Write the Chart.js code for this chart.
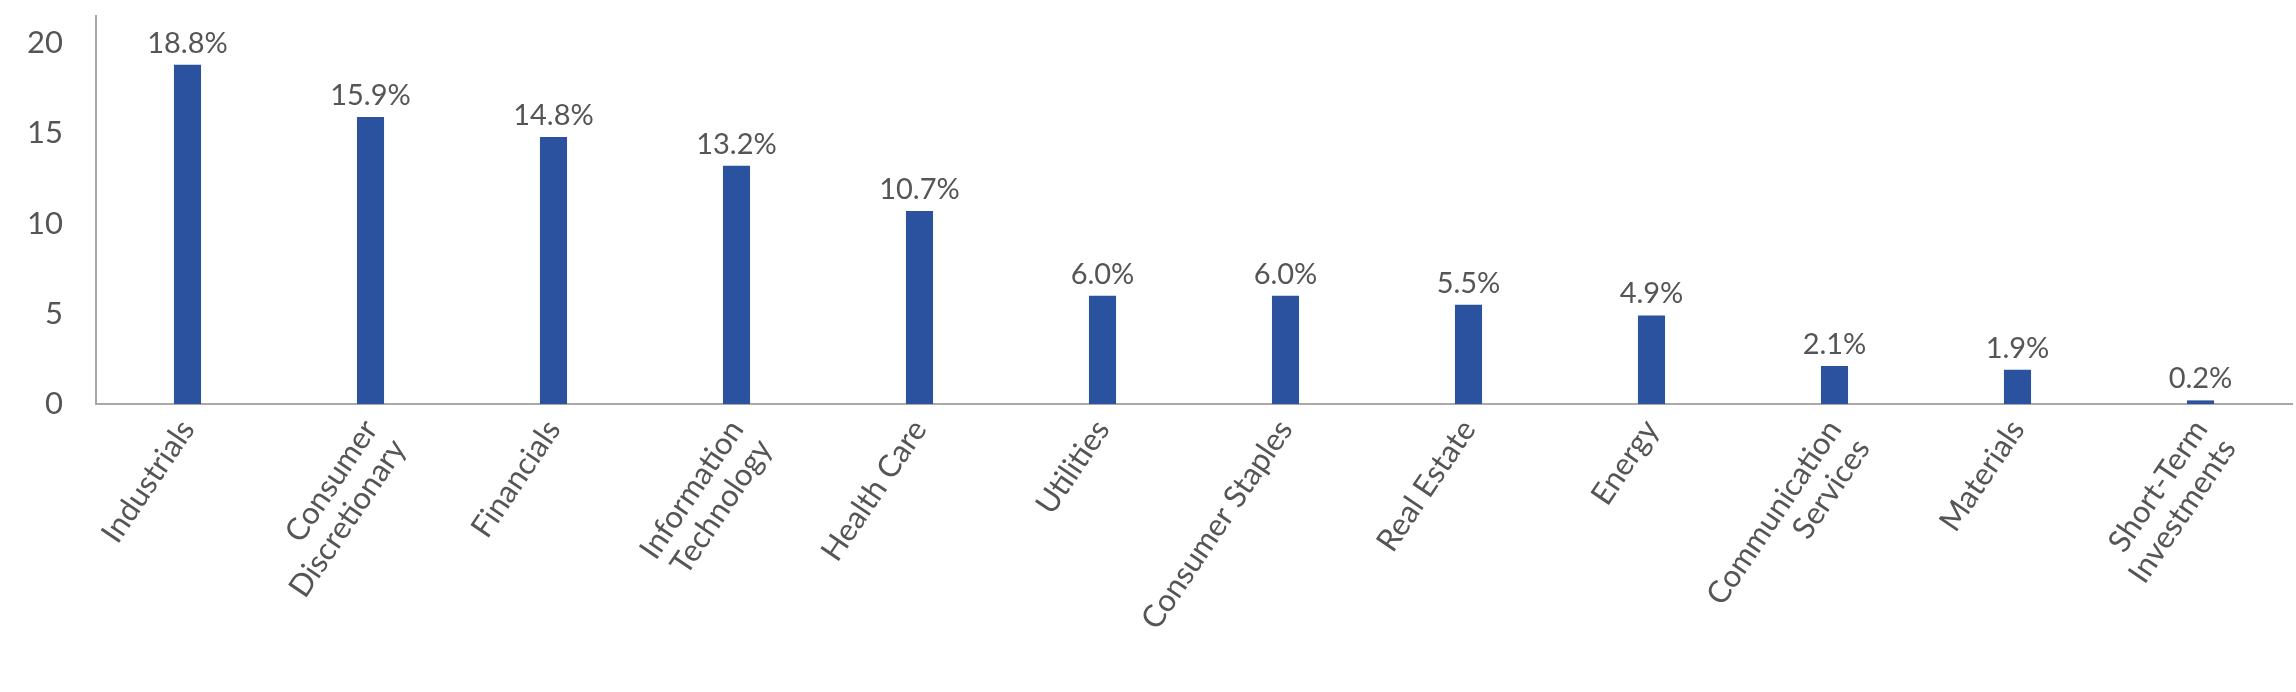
<!DOCTYPE html>
<html>
<head>
<meta charset="utf-8">
<script src="https://cdn.jsdelivr.net/npm/chart.js@4.4.1/dist/chart.umd.min.js"></script>
<style>
  html, body { margin: 0; padding: 0; background: #fff; }
  #wrap { width: 2296px; height: 692px; position: relative; }
</style>
</head>
<body>
<div id="wrap"><canvas id="sectorChart"></canvas></div>
<script>
// Sector weights (%)
const sectors = [
  "Industrials",
  ["Consumer", "Discretionary"],
  "Financials",
  ["Information", "Technology"],
  "Health Care",
  "Utilities",
  "Consumer Staples",
  "Real Estate",
  "Energy",
  ["Communication", "Services"],
  "Materials",
  ["Short-Term", "Investments"],
];
const weights = [18.8, 15.9, 14.8, 13.2, 10.7, 6.0, 6.0, 5.5, 4.9, 2.1, 1.9, 0.2];
const yTicks = [0, 5, 10, 15, 20];

const textColor = "#555555";
const barColor = "#2b529f";
const fontFamily = "Lato, 'Open Sans', sans-serif";

// Draws the value above each bar
const barLabels = {
  id: "barLabels",
  afterDatasetsDraw(chart) {
    const ctx = chart.ctx;
    const meta = chart.getDatasetMeta(0);
    ctx.save();
    ctx.fillStyle = textColor;
    ctx.font = `29px ${fontFamily}`;
    ctx.textAlign = "center";
    ctx.textBaseline = "bottom";
    meta.data.forEach((bar, i) => {
      ctx.fillText(weights[i].toFixed(1) + "%", bar.x, bar.y - 7);
    });
    ctx.restore();
  },
};

new Chart(document.getElementById("sectorChart"), {
  type: "bar",
  data: {
    labels: sectors,
    datasets: [
      {
        data: weights,
        backgroundColor: barColor,
        borderWidth: 0,
        categoryPercentage: 1,
        barPercentage: 0.148,
      },
    ],
  },
  options: {
    responsive: true,
    maintainAspectRatio: false,
    animation: false,
    layout: { padding: { top: 16, right: 4, left: 0, bottom: 0 } },
    plugins: {
      legend: { display: false },
      tooltip: { enabled: false },
    },
    scales: {
      x: {
        grid: { display: false, drawTicks: false },
        border: { display: true, color: "#a8a8a8", width: 2 },
        ticks: {
          color: textColor,
          font: { family: fontFamily, size: 31, lineHeight: 1.1 },
          minRotation: 56,
          maxRotation: 56,
          padding: 10,
          autoSkip: false,
        },
        afterFit: (scale) => {
          scale.height = 288;
          scale.paddingLeft = 0;
          scale.paddingRight = 0;
        },
      },
      y: {
        min: 0,
        max: 21.5,
        grid: { display: false, drawTicks: false },
        border: { display: true, color: "#a8a8a8", width: 2 },
        afterBuildTicks: (scale) => {
          scale.ticks = yTicks.map((v) => ({ value: v }));
        },
        ticks: {
          color: textColor,
          font: { family: fontFamily, size: 31 },
          padding: 33,
        },
        afterFit: (scale) => {
          scale.width = 96;
          scale.paddingTop = 0;
          scale.paddingBottom = 0;
        },
      },
    },
  },
  plugins: [barLabels],
});
</script>
</body>
</html>
